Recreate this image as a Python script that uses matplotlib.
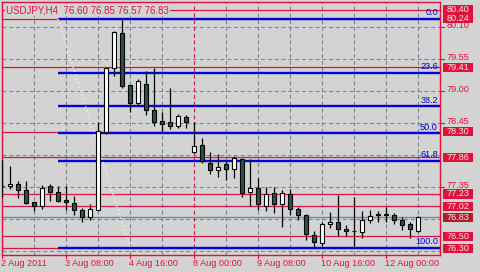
import matplotlib.pyplot as plt
from matplotlib.patches import Rectangle
from matplotlib.transforms import blended_transform_factory

# USDJPY H4 candles, 2 Aug - 12 Aug 2011
opens = [77.36, 77.36, 77.40, 77.30, 77.10, 77.03, 77.36, 77.27, 77.12, 77.07,
         76.95, 76.83, 76.95, 78.30, 79.39, 79.99, 79.10, 78.79, 79.12, 78.67,
         78.48, 78.46, 78.40, 78.55, 77.96, 78.07, 77.77, 77.65, 77.75, 77.66,
         77.83, 77.27, 77.34, 77.03, 77.25, 77.06, 77.23, 76.97, 76.86, 76.52,
         76.38, 76.71, 76.74, 76.62, 76.60, 76.57, 76.79, 76.89, 76.89, 76.86,
         76.79, 76.71, 76.60]
highs = [77.81, 77.71, 77.45, 77.45, 77.10, 77.38, 77.40, 77.36, 77.36, 77.20,
         76.99, 77.06, 78.46, 79.40, 80.03, 80.24, 79.10, 79.20, 79.34, 79.39,
         78.64, 79.06, 78.60, 78.58, 78.46, 78.19, 77.95, 77.91, 77.80, 77.88,
         77.85, 77.83, 77.50, 77.35, 77.35, 77.29, 77.32, 77.01, 76.88, 76.59,
         76.74, 76.92, 77.21, 76.70, 77.18, 76.94, 76.95, 76.93, 77.01, 76.91,
         76.83, 76.75, 76.85]
lows = [77.17, 77.31, 77.16, 77.06, 76.93, 76.97, 77.11, 77.10, 76.95, 76.87,
        76.75, 76.79, 76.95, 78.26, 79.25, 79.05, 78.64, 78.75, 78.59, 78.40,
        78.30, 78.35, 78.37, 78.36, 77.91, 77.76, 77.58, 77.52, 77.47, 77.51,
        77.18, 77.03, 76.95, 76.94, 76.90, 76.67, 76.86, 76.78, 76.44, 76.32,
        76.34, 76.65, 76.50, 76.50, 76.30, 76.48, 76.73, 76.75, 76.75, 76.71,
        76.61, 76.48, 76.57]
closes = [77.37, 77.40, 77.29, 77.08, 77.03, 77.34, 77.26, 77.11, 77.09, 76.96,
          76.83, 76.97, 78.32, 79.39, 80.01, 79.09, 78.79, 79.17, 78.67, 78.47,
          78.44, 78.39, 78.57, 78.46, 78.05, 77.80, 77.65, 77.69, 77.66, 77.85,
          77.25, 77.34, 77.05, 77.23, 77.06, 77.25, 76.98, 76.87, 76.54, 76.40,
          76.71, 76.75, 76.63, 76.59, 76.60, 76.79, 76.85, 76.86, 76.86, 76.79,
          76.69, 76.62, 76.83]

fib_pct = [0.0, 23.6, 38.2, 50.0, 61.8, 100.0]
fib_high = 80.24
fib_low = 76.30
red_lines = [80.40, 80.24, 79.41, 78.30, 77.86, 77.23, 77.02, 76.50, 76.30]
bid = 76.83
grid_prices = [80.10, 79.55, 79.00, 78.45, 77.90, 77.35, 76.80, 76.25]
axis_prices = [80.10, 79.55, 79.00, 78.45, 77.35]
date_bars = [0, 8, 16, 24, 32, 40, 48]
date_labels = ['2 Aug 2011', '3 Aug 08:00', '4 Aug 16:00', '8 Aug 00:00',
               '9 Aug 08:00', '10 Aug 16:00', '12 Aug 00:00']

bg = '#d3d3d3'
red = '#dc143c'
grid_col = '#778899'
fib_col = '#0000dd'
bear_col = '#2f4f4f'

plt.rcParams['font.family'] = ['Liberation Sans', 'DejaVu Sans']
plt.rcParams['font.size'] = 6.6
plt.rcParams['lines.scale_dashes'] = False

fig = plt.figure(figsize=(4.8, 2.72), dpi=100, facecolor=bg)
ax = fig.add_axes([2 / 480, 17 / 272, 438 / 480, 253 / 272], facecolor=bg)
ax.set_xlim(0, 54.75)
ax.set_ylim(76.181, 80.530)
ax.set_xticks([])
ax.set_yticks([])
for s in ax.spines.values():
    s.set_color(red)
    s.set_linewidth(1)

# grid
for p in grid_prices:
    ax.axhline(p, color=grid_col, lw=0.8, ls=(0, (2.9, 2)), zorder=0)
for b in range(4, 54, 4):
    c = red if b == 24 else grid_col
    ax.axvline(b, color=c, lw=0.8, ls=(0, (2.9, 2)), zorder=0)

# horizontal levels
for p in red_lines:
    ax.axhline(p, color=red, lw=0.9, zorder=1)
ax.axhline(bid, color=grid_col, lw=1.0, zorder=1)

# fibonacci retracement
for pct in fib_pct:
    lvl = fib_high - (fib_high - fib_low) * pct / 100
    ax.hlines(lvl, 7, 54.75, color=fib_col, lw=1.7, zorder=2)
    ax.text(54.5, lvl + 0.03, f'{pct:.1f}', ha='right', va='bottom',
            color=fib_col, fontsize=6.6, zorder=2)
ax.plot([7, 16], [fib_high, fib_low], color='#fbf5cf', lw=1,
        ls=(0, (1, 2)), zorder=2)

# candles
idx = list(range(len(opens)))
ax.vlines(idx, lows, highs, color='black', lw=0.9, zorder=3)
for i in idx:
    o, c = opens[i], closes[i]
    face = 'white' if c >= o else bear_col
    ax.bar(i, c - o, bottom=o, width=0.55, color=face,
           edgecolor='black', linewidth=0.8, zorder=4)

# title
ax.text(4 / 438, 0.968, 'USDJPY,H4  76.60 76.85 76.57 76.83',
        transform=ax.transAxes, ha='left', va='center', color=red,
        fontsize=7, zorder=5,
        bbox=dict(boxstyle='square,pad=0.1', fc=bg, ec='none'))

# price axis
tr = blended_transform_factory(ax.transAxes, ax.transData)
for p in axis_prices:
    ax.plot([1.0, 1.008], [p, p], color=red, lw=0.8, transform=tr,
            clip_on=False)
    ax.text(1.014, p + 0.02, f'{p:.2f}', transform=tr, ha='left',
            va='center', color=red, clip_on=False)

label_prices = red_lines[:7] + [bid] + red_lines[7:]
for p in label_prices:
    fc = '#b01c2e' if p == bid else red
    ax.add_patch(Rectangle((1.007, p - 0.078), 30 / 438, 0.156,
                           transform=tr, fc=fc, ec='none', clip_on=False,
                           zorder=6))
    ax.text(1.007 + 15 / 438, p, f'{p:.2f}', transform=tr, ha='center',
            va='center', color='#fbe4e8', clip_on=False, zorder=7)

# time axis
for b, lab in zip(date_bars, date_labels):
    ax.plot([b, b], [0, -0.012], color=red, lw=0.8,
            transform=blended_transform_factory(ax.transData, ax.transAxes),
            clip_on=False)
    ax.text(b - 0.12, -0.034, lab, ha='left', va='center', color=red,
            transform=blended_transform_factory(ax.transData, ax.transAxes),
            clip_on=False)

plt.savefig('out.png', dpi=100, facecolor=bg)
